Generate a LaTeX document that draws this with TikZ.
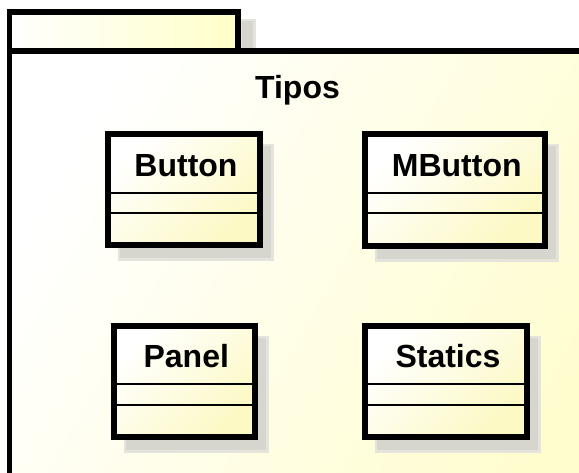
\documentclass[tikz,border=0pt]{standalone}
\usepackage{fontspec}
\setmainfont{Liberation Sans}
\usetikzlibrary{calc}

\definecolor{pkgyellow}{RGB}{255,253,206}
\definecolor{tabyellow}{RGB}{255,255,200}
\definecolor{boxyellow}{RGB}{252,249,196}
\definecolor{shadowgrey}{RGB}{214,214,206}
\definecolor{shadowlight}{RGB}{228,228,220}

\tikzset{
  classbox/.style={draw=black, line width=6pt, inner sep=0pt, rectangle,
    left color=white, right color=boxyellow, shading angle=45},
  compartment/.style={draw=black, line width=2pt},
  classname/.style={font=\bfseries\fontsize{32}{38}\selectfont, inner sep=0pt, anchor=base},
  pkgline/.style={draw=black, line width=5.5pt},
}

\begin{document}
\begin{tikzpicture}[x=1pt, y=-1pt]
  \useasboundingbox (0,0) rectangle (579,472);
  \clip (0,0) rectangle (579,472);
  \fill[white] (0,0) rectangle (579,472);

  % package tab with its shadow
  \fill[shadowlight] (241,19) rectangle (256,50);
  \fill[shadowgrey] (242,21) rectangle (253,50);
  \node[pkgline, inner sep=0pt, minimum width=228.5pt, minimum height=39pt,
        left color=white, right color=tabyellow, shading angle=90] (tab) at (123.75,31.5) {};

  % package body, running past the right and bottom edges
  \path[pkgline, left color=white, right color=pkgyellow, shading angle=60]
    (9.5,51) rectangle (620,520);
  \node[classname] (tipos) at (297.5,98) {Tipos};

  % classes: shadow, box, name, compartments
  \foreach \id/\label/\cx/\cy/\w/\h in {
      button/Button/184/189.5/152/111,
      mbutton/MButton/454.75/190/179.5/112,
      panel/Panel/184.25/381.25/140.5/111.5,
      statics/Statics/446/381.25/162/111.5}{
    \fill[shadowlight] (\cx-\w/2+10,\cy-\h/2+10) rectangle (\cx+\w/2+14,\cy+\h/2+16);
    \fill[shadowgrey] (\cx-\w/2+12,\cy-\h/2+12) rectangle (\cx+\w/2+11,\cy+\h/2+13);
    \node[classbox, minimum width=\w pt, minimum height=\h pt] (\id) at (\cx,\cy) {};
    \node[classname] (\id-name) at ($(\id.north)+(2,45)$) {\label};
    \draw[compartment] ($(\id.north west)+(0,61.5)$) -- ($(\id.north east)+(0,61.5)$);
    \draw[compartment] ($(\id.north west)+(0,82)$) -- ($(\id.north east)+(0,82)$);
  }
\end{tikzpicture}
\end{document}
